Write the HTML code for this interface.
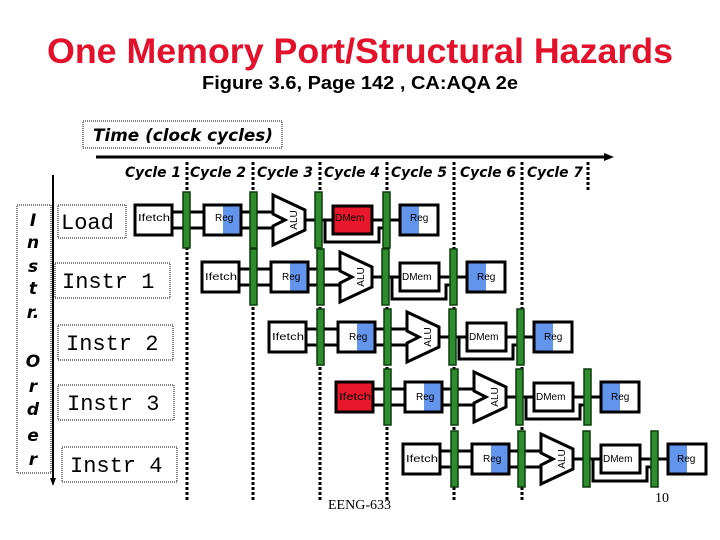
<!DOCTYPE html>
<html><head><meta charset="utf-8"><style>
body{margin:0;background:#fff;}
svg{display:block;}
.bx{fill:#fff;stroke:#000;stroke-width:3}
.bar{fill:#2e8b2e;stroke:#0b3d0b;stroke-width:1.5}
.ln{stroke:#000;stroke-width:3;fill:none}
.t{font-family:"Liberation Sans",sans-serif;font-size:10px;fill:#000}
.cy{font-family:"DejaVu Sans",sans-serif;font-weight:bold;font-style:italic;font-size:14px}
.cr{font-family:"Liberation Mono",monospace;font-size:22px}
.io{font-family:"DejaVu Sans",sans-serif;font-weight:bold;font-style:italic;font-size:17px}
</style></head><body>
<svg width="720" height="540" viewBox="0 0 720 540" xmlns="http://www.w3.org/2000/svg">
<defs>
<g id="pipe">
  <line class="ln" x1="37" y1="-8" x2="69" y2="-8"/><line class="ln" x1="37" y1="8" x2="69" y2="8"/>
  <line class="ln" x1="106" y1="-8" x2="140" y2="-8"/><line class="ln" x1="106" y1="8" x2="140" y2="8"/>
  <line class="ln" x1="170" y1="0" x2="198" y2="0"/>
  <line class="ln" x1="237" y1="0" x2="265" y2="0"/>
  <polyline class="ln" points="190,0 190,22 244,22 244,8 250,8"/>
  <rect class="bar" x="48" y="-28" width="7" height="56"/>
  <rect class="bar" x="115" y="-28" width="7" height="56"/>
  <rect class="bar" x="180" y="-28" width="7" height="56"/>
  <rect class="bar" x="248" y="-28" width="7" height="56"/>
  <rect x="69" y="-15" width="37" height="30" fill="#fff"/>
  <rect x="88" y="-15" width="18" height="30" fill="#6495ed"/>
  <rect x="69" y="-15" width="37" height="30" fill="none" stroke="#000" stroke-width="3"/>
  <polygon points="138,-25 170,-10 170,10 138,25 138,6 150,0 138,-6" fill="#fff" stroke="#000" stroke-width="3"/>
  <rect x="265" y="-15" width="38" height="30" fill="#fff"/>
  <rect x="265" y="-15" width="19" height="30" fill="#6495ed"/>
  <rect x="265" y="-15" width="38" height="30" fill="none" stroke="#000" stroke-width="3"/>
</g>
</defs>

<text x="360" y="63" text-anchor="middle" font-family="Liberation Sans,sans-serif" font-weight="bold" font-size="35" fill="#e3112b" textLength="626" lengthAdjust="spacingAndGlyphs">One Memory Port/Structural Hazards</text>
<text x="360" y="89" text-anchor="middle" font-family="Liberation Sans,sans-serif" font-weight="bold" font-size="18" fill="#000" textLength="316" lengthAdjust="spacingAndGlyphs">Figure 3.6, Page 142 , CA:AQA 2e</text>

<rect x="83" y="121" width="199" height="27" fill="none" stroke="#000" stroke-width="1" stroke-dasharray="1,1"/>
<text x="93" y="141" class="io" font-size="18" textLength="180" lengthAdjust="spacingAndGlyphs">Time (clock cycles)</text>
<line x1="96" y1="157" x2="606" y2="157" stroke="#000" stroke-width="3"/>
<polygon points="614,157 604,153 604,161" fill="#000"/>

<g stroke="#000" stroke-width="3" stroke-dasharray="3,2">
<line x1="187" y1="162" x2="187" y2="500"/><line x1="253" y1="162" x2="253" y2="500"/>
<line x1="320" y1="162" x2="320" y2="500"/><line x1="387" y1="162" x2="387" y2="500"/>
<line x1="454" y1="162" x2="454" y2="500"/><line x1="522" y1="162" x2="522" y2="500"/>
<line x1="588" y1="162" x2="588" y2="190"/>
</g>
<g class="cy">
<text x="125" y="177" textLength="56" lengthAdjust="spacingAndGlyphs">Cycle 1</text>
<text x="190" y="177" textLength="56" lengthAdjust="spacingAndGlyphs">Cycle 2</text>
<text x="257" y="177" textLength="56" lengthAdjust="spacingAndGlyphs">Cycle 3</text>
<text x="324" y="177" textLength="56" lengthAdjust="spacingAndGlyphs">Cycle 4</text>
<text x="391" y="177" textLength="56" lengthAdjust="spacingAndGlyphs">Cycle 5</text>
<text x="460" y="177" textLength="56" lengthAdjust="spacingAndGlyphs">Cycle 6</text>
<text x="527" y="177" textLength="56" lengthAdjust="spacingAndGlyphs">Cycle 7</text>
</g>

<!-- left -->
<rect x="17" y="205" width="34" height="268" fill="none" stroke="#000" stroke-width="1" stroke-dasharray="1,1"/>
<g class="io" text-anchor="middle">
<text x="33" y="226">I</text><text x="33" y="248">n</text><text x="33" y="272">s</text><text x="33" y="294">t</text><text x="33" y="318">r.</text>
<text x="33" y="367">O</text><text x="33" y="392">r</text><text x="33" y="415">d</text><text x="33" y="441">e</text><text x="33" y="465">r</text>
</g>
<line x1="53" y1="175" x2="53" y2="480" stroke="#000" stroke-width="2"/>
<polygon points="53,486 50,478 56,478" fill="#000"/>
<g fill="none" stroke="#000" stroke-width="1" stroke-dasharray="1,1">
<rect x="58" y="205" width="68" height="33"/><rect x="55" y="263" width="115" height="35"/>
<rect x="58" y="325" width="115" height="35"/><rect x="58" y="385" width="116" height="35"/><rect x="62" y="447" width="115" height="35"/>
</g>
<text class="cr" x="61" y="229">Load</text>
<text class="cr" x="62" y="288">Instr 1</text>
<text class="cr" x="66" y="350">Instr 2</text>
<text class="cr" x="67" y="410">Instr 3</text>
<text class="cr" x="70" y="472">Instr 4</text>

<!-- rows -->
<g transform="translate(135,220)"><use href="#pipe"/>
<rect class="bx" x="0" y="-15" width="37" height="30"/><rect x="198" y="-14" width="39" height="28" fill="#e8172b" stroke="#000" stroke-width="3"/></g>
<g transform="translate(202,277)"><use href="#pipe"/>
<rect class="bx" x="0" y="-15" width="37" height="30"/><rect class="bx" x="198" y="-14" width="39" height="28"/></g>
<g transform="translate(269,337)"><use href="#pipe"/>
<rect class="bx" x="0" y="-15" width="37" height="30"/><rect class="bx" x="198" y="-14" width="39" height="28"/></g>
<g transform="translate(336,397)"><use href="#pipe"/>
<rect x="0" y="-15" width="37" height="30" fill="#e8172b" stroke="#000" stroke-width="3"/><rect class="bx" x="198" y="-14" width="39" height="28"/></g>
<g transform="translate(403,459)"><use href="#pipe"/>
<rect class="bx" x="0" y="-15" width="37" height="30"/><rect class="bx" x="198" y="-14" width="39" height="28"/></g>

<!-- row labels -->
<g class="t">
<text x="138" y="221" textLength="32" lengthAdjust="spacingAndGlyphs">Ifetch</text><text x="215" y="221">Reg</text><text x="335" y="221">DMem</text><text x="410" y="221">Reg</text>
<text x="205" y="280" textLength="32" lengthAdjust="spacingAndGlyphs">Ifetch</text><text x="282" y="280">Reg</text><text x="402" y="280">DMem</text><text x="477" y="280">Reg</text>
<text x="272" y="340" textLength="32" lengthAdjust="spacingAndGlyphs">Ifetch</text><text x="349" y="340">Reg</text><text x="469" y="340">DMem</text><text x="544" y="340">Reg</text>
<text x="339" y="400" textLength="32" lengthAdjust="spacingAndGlyphs">Ifetch</text><text x="416" y="400">Reg</text><text x="536" y="400">DMem</text><text x="611" y="400">Reg</text>
<text x="406" y="462" textLength="32" lengthAdjust="spacingAndGlyphs">Ifetch</text><text x="483" y="462">Reg</text><text x="603" y="462">DMem</text><text x="677" y="462">Reg</text>
<text transform="translate(297,220) rotate(-90)" text-anchor="middle">ALU</text>
<text transform="translate(364,277) rotate(-90)" text-anchor="middle">ALU</text>
<text transform="translate(431,337) rotate(-90)" text-anchor="middle">ALU</text>
<text transform="translate(498,397) rotate(-90)" text-anchor="middle">ALU</text>
<text transform="translate(565,459) rotate(-90)" text-anchor="middle">ALU</text>
</g>

<text x="328" y="509" font-family="Liberation Serif,serif" font-size="14">EENG-633</text>
<text x="655" y="502" font-family="Liberation Serif,serif" font-size="14">10</text>
</svg>
</body></html>
